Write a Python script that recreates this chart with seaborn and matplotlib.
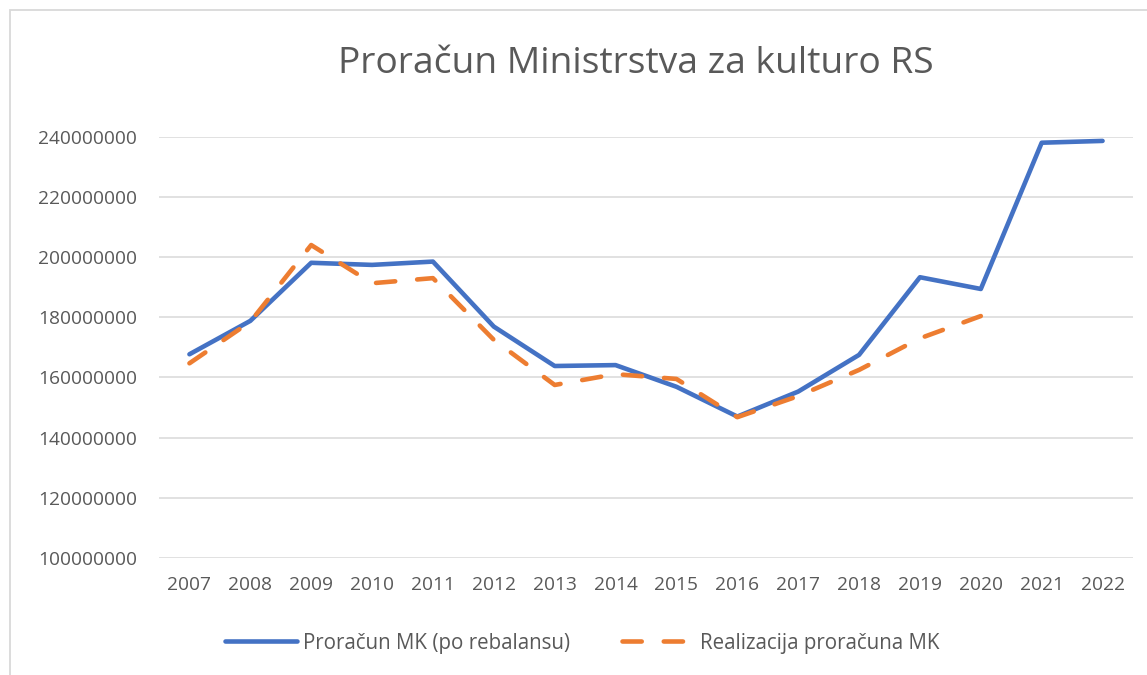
import matplotlib
matplotlib.use("Agg")
import matplotlib.pyplot as plt
from matplotlib.patches import Rectangle
import seaborn as sns
import pandas as pd
import numpy as np

years = [2007, 2008, 2009, 2010, 2011, 2012, 2013, 2014, 2015, 2016, 2017, 2018, 2019, 2020, 2021, 2022]
budget = [167.7e6, 178.8e6, 198.1e6, 197.4e6, 198.5e6, 176.9e6, 163.8e6, 164.1e6, 156.9e6, 147.0e6,
          155.3e6, 167.5e6, 193.3e6, 189.4e6, 238.0e6, 238.6e6]
realized = [164.7e6, 178.5e6, 204.0e6, 191.3e6, 193.0e6, 172.5e6, 157.5e6, 161.1e6, 159.5e6, 146.8e6,
            153.8e6, 162.5e6, 173.0e6, 180.4e6, np.nan, np.nan]
series_names = ["Proračun MK (po rebalansu)", "Realizacija proračuna MK"]
title = "Proračun Ministrstva za kulturo RS"
yticks = [100000000, 120000000, 140000000, 160000000, 180000000, 200000000, 220000000, 240000000]

sns.set_theme(style="white")
plt.rcParams['font.family'] = ['Open Sans', 'DejaVu Sans']

W, H = 1147, 675
fig = plt.figure(figsize=(W / 100, H / 100), dpi=100)
ax = fig.add_axes([159 / W, 1 - 558 / H, (1133 - 159) / W, (558 - 136.7) / H])

df_b = pd.DataFrame({"year": years, "value": budget})
df_r = pd.DataFrame({"year": years, "value": realized})

blue = "#4472C4"
orange = "#ED7D31"
grey = "#595959"

sns.lineplot(data=df_b, x="year", y="value", ax=ax, color=blue, linewidth=3.3,
             label=series_names[0], solid_capstyle="round", solid_joinstyle="round")
sns.lineplot(data=df_r.dropna(), x="year", y="value", ax=ax, color=orange, linewidth=3.3,
             label=series_names[1], dashes=False)
ln = ax.lines[-1]
ln.set_dashes((4.2, 4.8))
ln.set_dash_capstyle("round")
ln.set_dash_joinstyle("round")

ax.set_xlim(years[0] - 0.5, years[-1] + 0.5)
ax.set_ylim(yticks[0], yticks[-1])
ax.set_xticks(years)
ax.set_xticklabels([str(y) for y in years])
ax.set_yticks(yticks)
ax.set_yticklabels([str(v) for v in yticks])
ax.set_xlabel("")
ax.set_ylabel("")
ax.grid(axis="y", color="#D9D9D9", linewidth=1.1)
ax.grid(axis="x", visible=False)
for s in ax.spines.values():
    s.set_visible(False)
ax.tick_params(axis="both", length=0, labelsize=13.8, colors=grey)
ax.tick_params(axis="y", pad=16)
ax.tick_params(axis="x", pad=13)

fig.text(636 / W, 1 - 64 / H, title, ha="center", va="center", fontsize=26.8, color=grey)

leg = ax.get_legend()
handles, labels = ax.get_legend_handles_labels()
leg.remove()
fig.legend(handles, labels, loc="center", bbox_to_anchor=(582 / W, 1 - 643 / H), ncol=2,
           frameon=False, fontsize=14.8, handlelength=3.5, handletextpad=0.28, columnspacing=2.55,
           labelcolor=grey)

fig.patches.append(Rectangle((10 / W, -0.1), 1.2, 1 - 10 / H + 0.1, transform=fig.transFigure,
                             fill=False, edgecolor="#D9D9D9", linewidth=1.3, figure=fig))

fig.savefig("out.png", dpi=100)
